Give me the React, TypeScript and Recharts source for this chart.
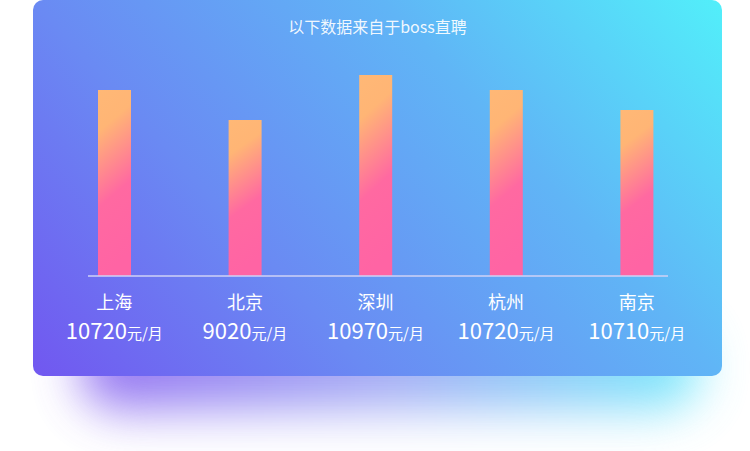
import React from "react";
import { BarChart, Bar, XAxis, YAxis } from "recharts";

const cities = ["上海", "北京", "深圳", "杭州", "南京"];
const salaries = [10720, 9020, 10970, 10720, 10710];
// bar heights (relative index)
const barValues = [186, 156, 201, 186, 166];

const data = cities.map((city, i) => ({
  city,
  salary: salaries[i],
  value: barValues[i],
}));

const FONT = '"Noto Sans CJK SC", "Noto Sans", sans-serif';

function CityTick(props: any) {
  const { x, y, payload } = props;
  const i = cities.indexOf(payload.value);
  return (
    <g>
      <text
        x={x}
        y={y + 33}
        textAnchor="middle"
        fill="#ffffff"
        fontSize={18}
        fontFamily={FONT}
      >
        {payload.value}
      </text>
      <text
        x={x}
        y={y + 63}
        textAnchor="middle"
        fill="#ffffff"
        fontFamily={FONT}
      >
        <tspan fontSize={22}>{salaries[i]}</tspan>
        <tspan fontSize={15}>元/月</tspan>
      </text>
    </g>
  );
}

export default function App() {
  return (
    <div
      style={{
        position: "absolute",
        left: 0,
        top: 0,
        width: 750,
        height: 451,
        background: "#ffffff",
        overflow: "hidden",
      }}
    >
      {/* blurred glow under the card */}
      <div
        style={{
          position: "absolute",
          left: 80,
          top: 325,
          width: 620,
          height: 85,
          borderRadius: 40,
          background: "linear-gradient(to right, #7a4fee, #8f9af2 50%, #5be6fb)",
          filter: "blur(24px)",
          opacity: 0.8,
        }}
      />

      <div
        style={{
          position: "absolute",
          left: 33,
          top: 0,
          width: 689,
          height: 376,
          borderRadius: 10,
          background:
            "linear-gradient(48deg, #7157f0 0%, #6a8af3 33%, #60b5f6 67%, #52effa 100%)",
        }}
      >
        <div
          style={{
            position: "absolute",
            left: 0,
            top: 16,
            width: "100%",
            textAlign: "center",
            color: "rgba(255,255,255,0.92)",
            fontSize: 16,
            lineHeight: "20px",
            fontFamily: FONT,
          }}
        >
          以下数据来自于boss直聘
        </div>

        <BarChart
          width={689}
          height={376}
          data={data}
          margin={{ top: 56, right: 54, bottom: 0, left: 55 }}
        >
          <defs>
            <linearGradient id="barGrad" x1="0" y1="0" x2="0.15" y2="1">
              <stop offset="0%" stopColor="#ffb876" />
              <stop offset="22%" stopColor="#ffb575" />
              <stop offset="62%" stopColor="#ff69a1" />
              <stop offset="100%" stopColor="#ff64a4" />
            </linearGradient>
          </defs>
          <XAxis
            dataKey="city"
            height={100}
            padding={{ left: -39, right: -34 }}
            axisLine={{ stroke: "#cfd2f6", strokeWidth: 1.5 }}
            tickLine={false}
            tickSize={0}
            tickMargin={0}
            interval={0}
            tick={<CityTick />}
          />
          <YAxis hide domain={[0, 220]} />
          <Bar
            dataKey="value"
            barSize={33}
            fill="url(#barGrad)"
            isAnimationActive={false}
          />
        </BarChart>
      </div>
    </div>
  );
}
